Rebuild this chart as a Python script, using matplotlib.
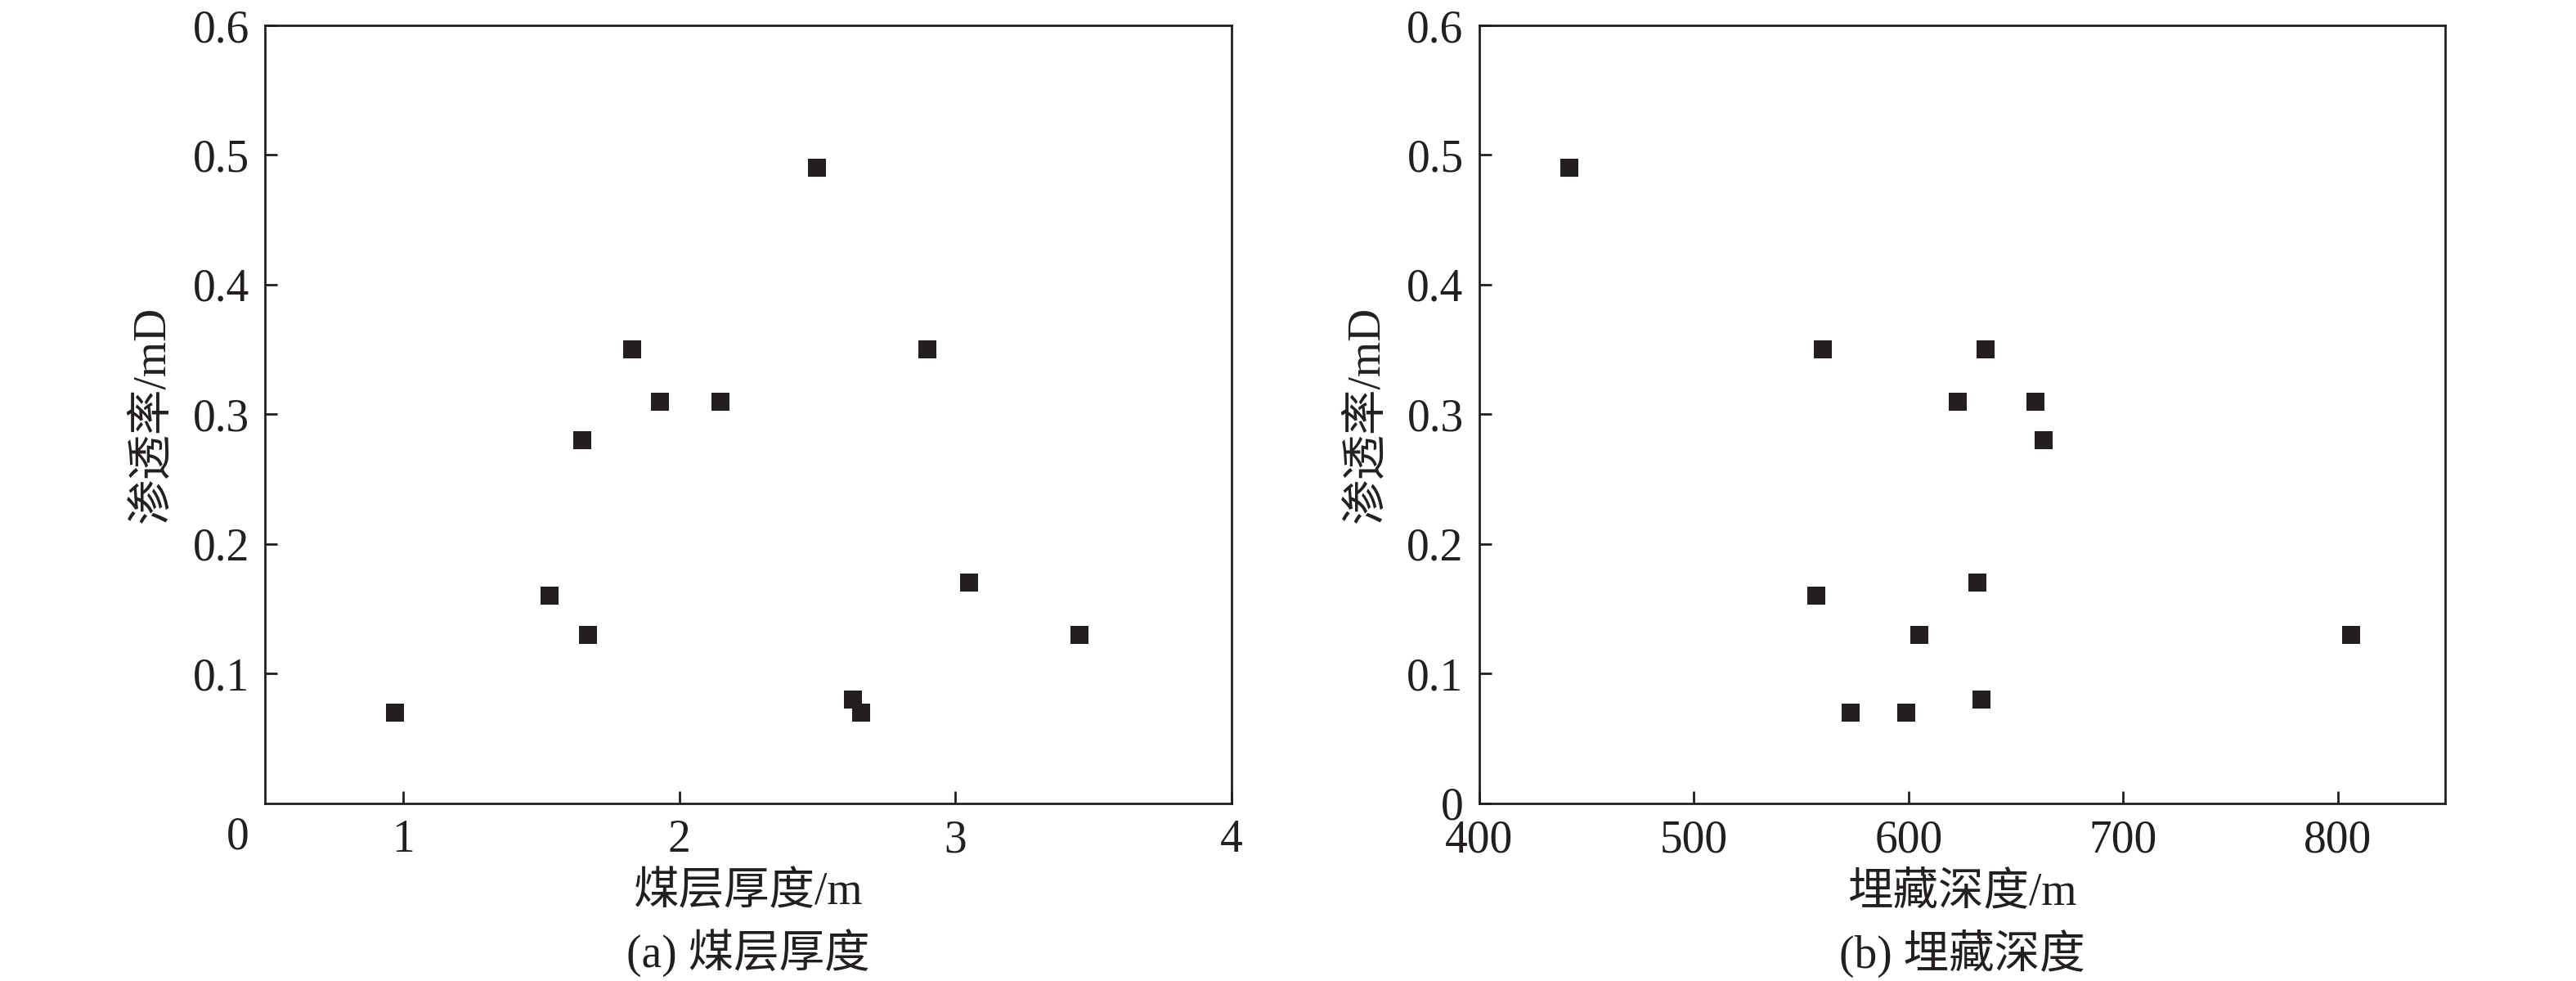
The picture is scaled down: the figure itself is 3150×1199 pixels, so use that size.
import matplotlib
matplotlib.use("Agg")
import matplotlib.pyplot as plt

plt.rcParams['font.family'] = ['Liberation Serif', 'Noto Sans CJK SC']
plt.rcParams['axes.unicode_minus'] = False

# ---- data ----
thickness = [0.97, 1.53, 1.67, 1.65, 1.83, 1.93, 2.15, 2.50, 2.63, 2.66, 2.90, 3.05, 3.45]
perm_a    = [0.07, 0.16, 0.13, 0.28, 0.35, 0.31, 0.31, 0.49, 0.08, 0.07, 0.35, 0.17, 0.13]

depth     = [442, 560, 636, 623, 659, 663, 557, 632, 605, 806, 573, 599, 634]
perm_b    = [0.49, 0.35, 0.35, 0.31, 0.31, 0.28, 0.16, 0.17, 0.13, 0.13, 0.07, 0.07, 0.08]

xticks_a = [1, 2, 3, 4]
yticks_a = [0.1, 0.2, 0.3, 0.4, 0.5, 0.6]
xticks_b = [400, 500, 600, 700, 800]
yticks_b = [0, 0.1, 0.2, 0.3, 0.4, 0.5, 0.6]

ylabel = "渗透率/mD"
xlabel_a = "煤层厚度/m"
xlabel_b = "埋藏深度/m"
caption_a = "(a) 煤层厚度"
caption_b = "(b) 埋藏深度"

# ---- style ----
W, H = 3150, 1199
INK = '#231f20'
FS = 40

fig = plt.figure(figsize=(W / 100, H / 100), dpi=100)
ax1 = fig.add_axes([324.3 / W, 1 - 981.7 / H, 1181.4 / W, 950.7 / H])
ax2 = fig.add_axes([1809 / W, 1 - 981.7 / H, 1181 / W, 950.7 / H])


def style(ax):
    for s in ax.spines.values():
        s.set_linewidth(2.0)
        s.set_color(INK)
    ax.tick_params(direction='in', length=10.8, width=2.0, color=INK,
                   labelsize=FS, labelcolor=INK, top=False, right=False)
    ax.tick_params(axis='y', pad=14)
    ax.tick_params(axis='x', pad=14)


ax1.scatter(thickness, perm_a, marker='s', s=15.5 ** 2, color=INK, linewidths=0, zorder=3)
ax1.set_xlim(0.5, 4)
ax1.set_ylim(0, 0.6)
ax1.set_xticks(xticks_a)
ax1.set_xticklabels([str(v) for v in xticks_a])
ax1.set_yticks(yticks_a)
ax1.set_yticklabels([f"{v:.1f}" for v in yticks_a])
style(ax1)
# corner "0" label
ax1.text(290.7 / W, 1 - 1024 / H, "0", transform=fig.transFigure, ha='center', va='center',
         fontsize=FS, color=INK)

ax2.scatter(depth, perm_b, marker='s', s=15.5 ** 2, color=INK, linewidths=0, zorder=3)
ax2.set_xlim(400, 850)
ax2.set_ylim(0, 0.6)
ax2.set_xticks(xticks_b)
ax2.set_xticklabels([str(v) for v in xticks_b])
ax2.set_yticks(yticks_b)
ax2.set_yticklabels(["0"] + [f"{v:.1f}" for v in yticks_b[1:]])
style(ax2)

for ax, xl, cap in [(ax1, xlabel_a, caption_a), (ax2, xlabel_b, caption_b)]:
    ax.set_xlabel(xl, fontsize=FS, color=INK, va='center')
    ax.xaxis.set_label_coords(0.5, -(1091 - 981.7) / 950.7)
    ax.set_ylabel(ylabel, fontsize=FS, color=INK, va='center')
    ax.yaxis.set_label_coords(-(324.3 - 186) / 1181.4, 0.5)
    ax.text(0.5, -(1165 - 981.7) / 950.7, cap, transform=ax.transAxes, ha='center', va='center',
            fontsize=FS, color=INK)

fig.savefig("out.png", dpi=100, facecolor='white')
